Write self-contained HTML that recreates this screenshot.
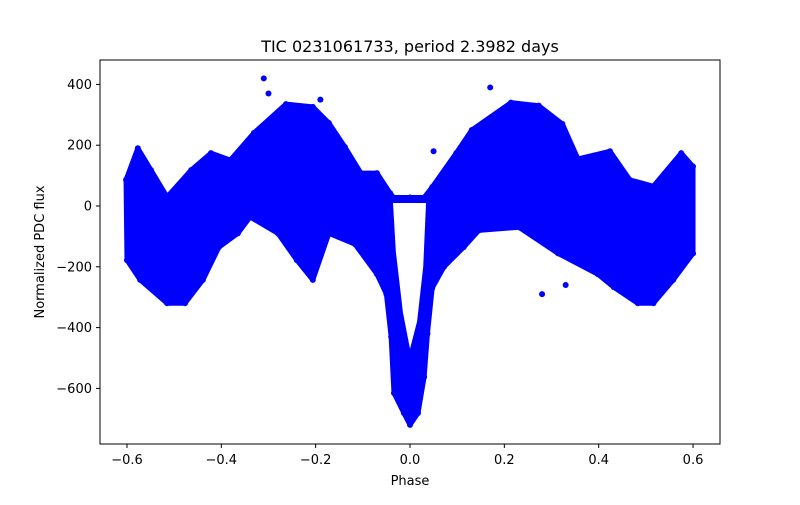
<!DOCTYPE html>
<html><head><meta charset="utf-8">
<style>
body{margin:0;background:#fff;font-family:"Liberation Sans",sans-serif;}
svg text{font-family:"DejaVu Sans","Liberation Sans",sans-serif;font-size:13px;fill:#000;}
</style></head>
<body>
<svg id="chart" width="800" height="500">
<rect x="0" y="0" width="800" height="500" fill="#fff"/>
<text x="410" y="52" text-anchor="middle" style="font-size:16px">TIC 0231061733, period 2.3982 days</text>
<g id="plot"></g>
<rect x="100" y="60" width="620" height="384" fill="none" stroke="#000" stroke-width="1"/>
<g id="axes"></g>
<text x="410" y="485" text-anchor="middle">Phase</text>
<text transform="translate(44,252) rotate(-90)" text-anchor="middle">Normalized PDC flux</text>
</svg>
<script>
const upperPhase=[-0.602,-0.577,-0.549,-0.515,-0.464,-0.422,-0.381,-0.331,-0.263,-0.206,-0.172,-0.138,-0.104,-0.07,-0.042,-0.035,0,0.03,0.047,0.098,0.131,0.214,0.273,0.323,0.356,0.424,0.466,0.516,0.575,0.6];
const upperFlux=[86,190,118,30,118,174,151,240,335,326,273,194,108,108,42,28,28,28,62,174,250,340,330,270,155,180,86,65,174,130];
const lowerPhase=[-0.6,-0.572,-0.515,-0.477,-0.439,-0.405,-0.365,-0.339,-0.28,-0.24,-0.206,-0.172,-0.117,-0.07,-0.05,-0.04,-0.034,-0.013,0,0.017,0.03,0.037,0.047,0.072,0.114,0.146,0.231,0.314,0.398,0.432,0.483,0.516,0.558,0.6];
const lowerFlux=[-178,-243,-320,-320,-243,-135,-90,-36,-90,-178,-243,-90,-125,-224,-290,-430,-615,-681,-720,-681,-562,-420,-270,-200,-135,-80,-70,-156,-224,-267,-320,-320,-243,-156];
const holePhase=[-0.036,-0.03,-0.015,0,0.015,0.028,0.034];
const holeTop=[10,10,10,10,10,10,10];
const holeBottom=[10,-150,-350,-470,-380,-200,10];
const outPhase=[-0.31,-0.3,0.17,0.28,0.33,-0.19,0.05];
const outFlux=[420,370,390,-290,-260,350,180];
const xTicks=[-0.6,-0.4,-0.2,0.0,0.2,0.4,0.6];
const xTickLabels=["−0.6","−0.4","−0.2","0.0","0.2","0.4","0.6"];
const yTicks=[400,200,0,-200,-400,-600];
const yTickLabels=["400","200","0","−200","−400","−600"];

const NS="http://www.w3.org/2000/svg";
const xs=p=>410+p*471.7;
const ys=f=>206-f*0.304;
const plot=document.getElementById('plot');
const axes=document.getElementById('axes');
function mk(tag,attrs,parent){const e=document.createElementNS(NS,tag);for(const k in attrs)e.setAttribute(k,attrs[k]);parent.appendChild(e);return e;}

let pts=[];
upperPhase.forEach((p,i)=>pts.push(xs(p)+','+ys(upperFlux[i])));
for(let i=lowerPhase.length-1;i>=0;i--)pts.push(xs(lowerPhase[i])+','+ys(lowerFlux[i]));
const band=mk('polygon',{points:pts.join(' '),fill:'#0000ff',stroke:'#0000ff','stroke-width':5,'stroke-linejoin':'round'},plot);



let hp=[];
holePhase.forEach((p,i)=>hp.push(xs(p)+','+ys(holeTop[i])));
for(let i=holePhase.length-1;i>=0;i--)hp.push(xs(holePhase[i])+','+ys(holeBottom[i]));
const hole=mk('polygon',{points:hp.join(' '),fill:'#fff'},plot);



upperPhase.forEach((p,i)=>{const c=mk('circle',{cx:xs(p),cy:ys(upperFlux[i]),r:3,fill:'#0000ff'},plot);

});
lowerPhase.forEach((p,i)=>{const c=mk('circle',{cx:xs(p),cy:ys(lowerFlux[i]),r:3,fill:'#0000ff'},plot);

});
outPhase.forEach((p,i)=>{const c=mk('circle',{cx:xs(p),cy:ys(outFlux[i]),r:3,fill:'#0000ff'},plot);

});

xTicks.forEach((t,i)=>{const x=xs(t);
const l=mk('line',{x1:x,x2:x,y1:444,y2:448,stroke:'#000'},axes);


const tx=mk('text',{x:x,y:464,'text-anchor':'middle'},axes);tx.textContent=xTickLabels[i];

});
yTicks.forEach((t,i)=>{const y=ys(t);
const l=mk('line',{x1:96,x2:100,y1:y,y2:y,stroke:'#000'},axes);


const tx=mk('text',{x:92,y:y+4.5,'text-anchor':'end'},axes);tx.textContent=yTickLabels[i];

});
</script>
</body></html>
